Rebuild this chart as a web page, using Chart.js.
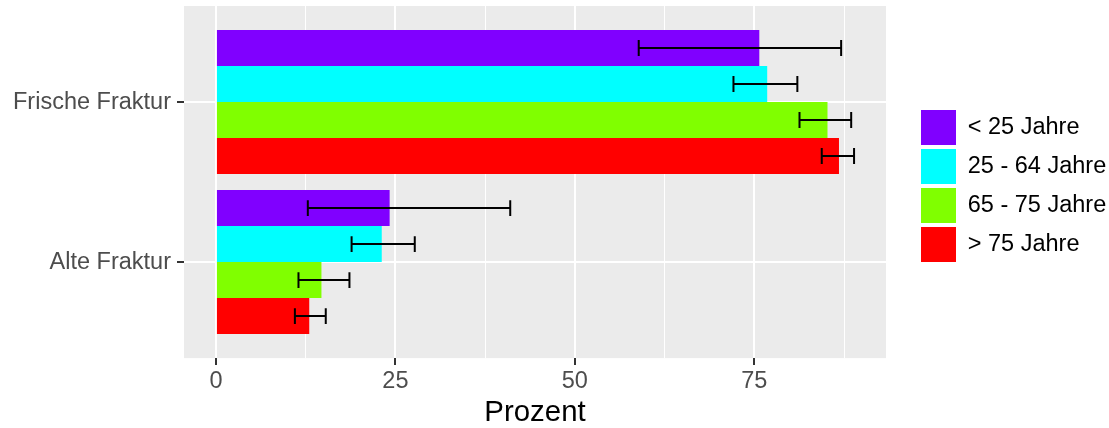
<!DOCTYPE html>
<html>
<head>
<meta charset="utf-8">
<script src="https://cdn.jsdelivr.net/npm/chart.js@4/dist/chart.umd.min.js"></script>
<style>
  html, body { margin: 0; padding: 0; background: #fff; }
</style>
</head>
<body>
<canvas id="graficaFraktur" width="1109" height="428"></canvas>
<script>
// --- DATOS ---
const categories = ['Frische Fraktur', 'Alte Fraktur'];
const groups = ['< 25 Jahre', '25 - 64 Jahre', '65 - 75 Jahre', '> 75 Jahre'];
const colors = ['#8000FF', '#00FFFF', '#80FF00', '#FF0000'];

// Prozent je Gruppe: [Frische, Alte]
const under25 = [75.7, 24.2];
const from25to64 = [76.8, 23.1];
const from65to75 = [85.2, 14.7];
const over75 = [86.8, 13.0];

// Fehlerbalken [unten, oben] je Kategorie
const under25Err = [[58.9, 87.1], [12.8, 41.0]];
const from25to64Err = [[72.1, 81.0], [18.9, 27.7]];
const from65to75Err = [[81.3, 88.5], [11.5, 18.6]];
const over75Err = [[84.4, 88.9], [11.0, 15.3]];

const xMajorTicks = [0, 25, 50, 75];
const xMinorTicks = [12.5, 37.5, 62.5, 87.5];

const values = [under25, from25to64, from65to75, over75];
const errors = [under25Err, from25to64Err, from65to75Err, over75Err];

const FONT = 'Liberation Sans, Arial, sans-serif';

// --- PLUGINS ---
const panelBackground = {
    id: 'panelBackground',
    beforeDraw(chart) {
        const a = chart.chartArea;
        const ctx = chart.ctx;
        ctx.save();
        ctx.fillStyle = '#EBEBEB';
        ctx.fillRect(a.left, a.top, a.right - a.left, a.bottom - a.top);
        ctx.restore();
    }
};

const errorBars = {
    id: 'errorBars',
    afterDatasetsDraw(chart) {
        const ctx = chart.ctx;
        const xScale = chart.scales.x;
        ctx.save();
        ctx.strokeStyle = '#000';
        ctx.lineWidth = 2;
        chart.data.datasets.forEach((ds, d) => {
            const meta = chart.getDatasetMeta(d);
            meta.data.forEach((bar, i) => {
                const [lo, hi] = ds.errors[i];
                const x1 = xScale.getPixelForValue(lo);
                const x2 = xScale.getPixelForValue(hi);
                const cap = bar.height * 0.22;
                ctx.beginPath();
                ctx.moveTo(x1, bar.y);
                ctx.lineTo(x2, bar.y);
                ctx.moveTo(x1, bar.y - cap);
                ctx.lineTo(x1, bar.y + cap);
                ctx.moveTo(x2, bar.y - cap);
                ctx.lineTo(x2, bar.y + cap);
                ctx.stroke();
            });
        });
        ctx.restore();
    }
};

const isMajor = v => xMajorTicks.includes(v);

new Chart(document.getElementById('graficaFraktur'), {
    type: 'bar',
    data: {
        datasets: groups.map((g, d) => ({
            label: g,
            data: values[d].map((v, i) => ({ x: v, y: i + 1 })),
            errors: errors[d],
            backgroundColor: colors[d],
            borderWidth: 0,
            categoryPercentage: 0.9,
            barPercentage: 1.0,
            xAxisID: 'x',
            yAxisID: 'y'
        }))
    },
    options: {
        indexAxis: 'y',
        responsive: false,
        animation: false,
        layout: { padding: { top: 6, left: 7, right: 0, bottom: 0 } },
        plugins: {
            tooltip: { enabled: false },
            legend: {
                position: 'right',
                align: 'start',
                maxWidth: 192,
                title: { display: true, text: ' ', font: { size: 10 }, padding: { top: 88, bottom: 0 } },
                labels: {
                    boxWidth: 35,
                    boxHeight: 35,
                    padding: 4,
                    color: '#000',
                    font: { family: FONT, size: 23.5 }
                }
            }
        },
        scales: {
            x: {
                type: 'linear',
                min: -4.45,
                max: 93.35,
                afterBuildTicks: s => {
                    s.ticks = xMajorTicks.concat(xMinorTicks).sort((a, b) => a - b).map(v => ({ value: v }));
                },
                ticks: {
                    autoSkip: false,
                    maxRotation: 0,
                    padding: 5,
                    color: '#4D4D4D',
                    font: { family: FONT, size: 23.5, lineHeight: 1.0 },
                    callback: v => isMajor(v) ? String(v) : ''
                },
                grid: {
                    color: '#FFFFFF',
                    lineWidth: c => isMajor(c.tick.value) ? 2 : 1,
                    tickLength: 7,
                    tickWidth: 2,
                    tickColor: c => isMajor(c.tick.value) ? '#333333' : 'rgba(0,0,0,0)'
                },
                border: { display: false },
                title: {
                    display: true,
                    text: 'Prozent',
                    color: '#000',
                    font: { family: FONT, size: 29.4, lineHeight: 1.0 },
                    padding: { top: 0, bottom: 0 }
                }
            },
            y: {
                type: 'linear',
                reverse: true,
                offset: false,
                min: 0.4,
                max: 2.6,
                afterBuildTicks: s => {
                    s.ticks = categories.map((c, i) => ({ value: i + 1 }));
                },
                afterFit: s => {
                    s.paddingTop = 0;
                    s.paddingBottom = 0;
                },
                ticks: {
                    padding: 6,
                    color: '#4D4D4D',
                    font: { family: FONT, size: 23.5 },
                    callback: v => categories[v - 1]
                },
                grid: {
                    offset: false,
                    color: '#FFFFFF',
                    lineWidth: 2,
                    tickLength: 7,
                    tickWidth: 2,
                    tickColor: '#333333'
                },
                border: { display: false }
            },
            pad: {
                type: 'linear',
                position: 'right',
                ticks: { display: false },
                grid: { display: false },
                border: { display: false },
                afterFit: s => { s.width = 31; }
            }
        }
    },
    plugins: [panelBackground, errorBars]
});
</script>
</body>
</html>
